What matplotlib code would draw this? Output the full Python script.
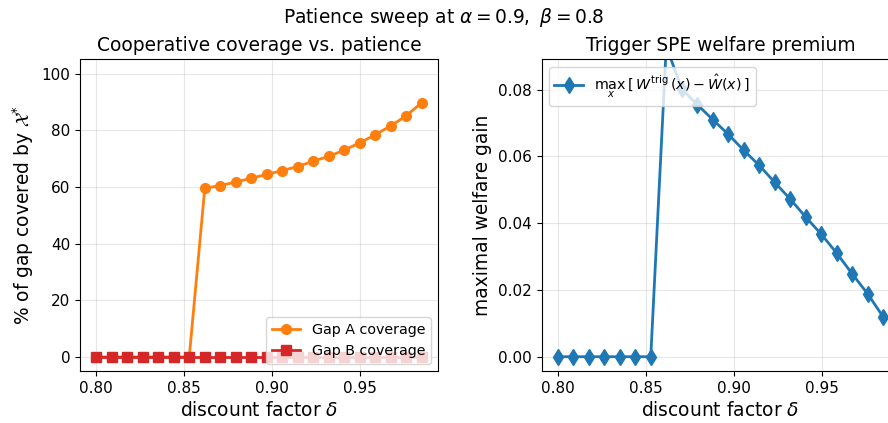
import numpy as np
import matplotlib
matplotlib.use("Agg")
import matplotlib.pyplot as plt

delta = np.linspace(0.80, 0.985, 22)

gap_a = [0, 0, 0, 0, 0, 0, 0,
         59.5, 60.5, 61.7, 63.1, 64.4, 65.8, 67.2, 69.1, 70.8,
         73.0, 75.6, 78.4, 81.6, 85.1, 89.8]
gap_b = [0] * 22

premium = [0, 0, 0, 0, 0, 0, 0,
           0.0930, 0.0802, 0.0755, 0.0710, 0.0666, 0.0618, 0.0573, 0.0522,
           0.0472, 0.0418, 0.0367, 0.0310, 0.0248, 0.0188, 0.0119]

W, H = 888, 423
fig = plt.figure(figsize=(W / 100, H / 100), dpi=100)

def ax_rect(l, t, r, b):
    return [l / W, 1 - b / H, (r - l) / W, (b - t) / H]

ax1 = fig.add_axes(ax_rect(80, 59.5, 438, 371))
ax2 = fig.add_axes(ax_rect(541.5, 59.5, 899.5, 371))

fs_tick = 11
fs_lab = 13.4
ax1.plot(delta, gap_a, color='#ff7f0e', marker='o', lw=2, ms=7, label='Gap A coverage')
ax1.plot(delta, gap_b, color='#d62728', marker='s', lw=2, ms=7, label='Gap B coverage')
ax1.set_ylim(-5, 105)
ax1.set_xticks([0.80, 0.85, 0.90, 0.95])
ax1.set_title('Cooperative coverage vs. patience', fontsize=fs_lab)
ax1.set_xlabel(r'discount factor $\delta$', fontsize=fs_lab)
ax1.set_ylabel(r'% of gap covered by $\mathcal{X}^{*}$', fontsize=fs_lab)
ax1.grid(True, alpha=0.3)
ax1.tick_params(labelsize=fs_tick)
ax1.legend(loc='lower right', fontsize=10.3)

ax2.plot(delta, premium, color='#1f77b4', marker='d', lw=2, ms=8,
         label=r'$\max_{x}\,[\,W^{\mathrm{trig}}(x)-\hat{W}(x)\,]$')
ax2.set_xticks([0.80, 0.85, 0.90, 0.95])
ax2.set_yticks([0.00, 0.02, 0.04, 0.06, 0.08])
ax2.set_ylim(-0.00428, 0.0890)
ax2.set_title('Trigger SPE welfare premium', fontsize=fs_lab)
ax2.set_xlabel(r'discount factor $\delta$', fontsize=fs_lab)
ax2.set_ylabel('maximal welfare gain', fontsize=fs_lab)
ax2.grid(True, alpha=0.3)
ax2.tick_params(labelsize=fs_tick)
ax2.legend(loc='upper left', fontsize=10.3)
ax1.set_xlim(0.80 - 0.00925, 0.985 + 0.00925)
ax2.set_xlim(0.80 - 0.00925, 0.985 + 0.00925)

fig.suptitle(r'Patience sweep at $\alpha = 0.9,\ \beta = 0.8$', fontsize=fs_lab, y=0.985)

fig.savefig('out.png', dpi=100)
